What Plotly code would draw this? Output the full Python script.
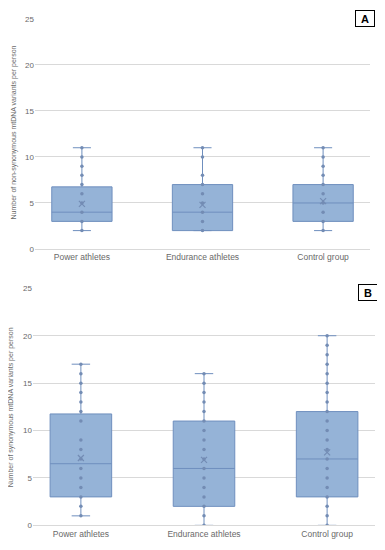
import plotly.graph_objects as go

categories = ["Power athletes", "Endurance athletes", "Control group"]

# Panel A: non-synonymous
a_min = [2, 2, 2]
a_q1 = [3, 2, 3]
a_median = [4, 4, 5]
a_q3 = [6.75, 7, 7]
a_max = [11, 11, 11]
a_mean = [4.9, 4.8, 5.2]
a_points = [
    [2, 3, 4, 5, 6, 7, 8, 9, 10, 11],
    [2, 3, 4, 5, 6, 7, 8, 10, 11],
    [2, 3, 4, 5, 6, 7, 8, 9, 10, 11],
]

# Panel B: synonymous
b_min = [1, 0, 0]
b_q1 = [3, 2, 3]
b_median = [6.5, 6, 7]
b_q3 = [11.75, 11, 12]
b_max = [17, 16, 20]
b_mean = [7.1, 6.9, 7.7]
b_points = [
    [1, 2, 3, 4, 5, 6, 7, 8, 9, 11, 12, 13, 14, 15, 16, 17],
    [0, 1, 2, 3, 4, 5, 6, 7, 8, 9, 10, 11, 12, 13, 14, 15, 16],
    [0, 1, 2, 3, 4, 5, 6, 7, 8, 9, 10, 11, 12, 13, 14, 15, 16, 17, 18, 19, 20],
]

y_ticks = [0, 5, 10, 15, 20, 25]

FILL = "rgb(149,179,215)"
LINE = "rgb(111,143,190)"
DOT = "rgb(115,140,180)"
GRID = "rgb(217,217,217)"
TXT = "rgb(105,105,105)"
FONT = "Liberation Sans Narrow, Liberation Sans, Arial"

fig = go.Figure()

for (mn, q1, md, q3, mx, mean, pts, xa, ya) in [
    (a_min, a_q1, a_median, a_q3, a_max, a_mean, a_points, "x", "y"),
    (b_min, b_q1, b_median, b_q3, b_max, b_mean, b_points, "x2", "y2"),
]:
    fig.add_trace(go.Box(
        x=categories, q1=q1, median=md, q3=q3, lowerfence=mn, upperfence=mx,
        fillcolor=FILL, line=dict(color=LINE, width=1), width=0.5,
        whiskerwidth=0.3, boxpoints=False, xaxis=xa, yaxis=ya,
        showlegend=False, hoverinfo="skip",
    ))
    xs, ys = [], []
    for c, p in zip(categories, pts):
        xs += [c] * len(p)
        ys += p
    fig.add_trace(go.Scatter(
        x=xs, y=ys, mode="markers", xaxis=xa, yaxis=ya,
        marker=dict(size=3.5, color=DOT), showlegend=False, hoverinfo="skip",
    ))
    fig.add_trace(go.Scatter(
        x=categories, y=mean, mode="markers", xaxis=xa, yaxis=ya,
        marker=dict(symbol="x-thin", size=6, line=dict(color=DOT, width=1.2)),
        showlegend=False, hoverinfo="skip",
    ))

# the page body has an 8px margin, so the figure is drawn 8px in from the top-left
OFF = 8
W = 385.0 - OFF
H = 550.0 - OFF
ml, mr = 33 - OFF, 10 - OFF
pw = W - ml - mr

def px(x):
    return (x - OFF - ml) / pw

def py(y):
    return 1 - (y - OFF) / H

def xd(px0, px1):
    return [px(px0), px(px1)]

def yd(top, bottom):
    return [py(bottom), py(top)]

ax_common = dict(showgrid=False, zeroline=False, showline=True, linecolor=GRID,
                 linewidth=1, ticks="", tickfont=dict(family=FONT, size=8.5, color=TXT),
                 categoryorder="array", categoryarray=categories)
ay_common = dict(range=[0, 25], tickvals=y_ticks, showgrid=True, gridcolor=GRID,
                 gridwidth=1, zeroline=False, showline=False, ticks="",
                 tickfont=dict(family=FONT, size=8, color=TXT))

fig.update_layout(
    width=int(W), height=int(H),
    margin=dict(l=ml, r=mr, t=0, b=0),
    paper_bgcolor="white", plot_bgcolor="white",
    xaxis=dict(domain=xd(35, 370), anchor="y", **ax_common),
    yaxis=dict(domain=yd(15, 249), anchor="x", **ay_common),
    xaxis2=dict(domain=xd(33, 375), anchor="y2", **ax_common),
    yaxis2=dict(domain=yd(289, 530), anchor="x2", **ay_common),
    annotations=[
        dict(text="Number of non-synonymous mtDNA variants per person", textangle=-90,
             xref="paper", yref="paper", x=px(13.5), y=py(131),
             xanchor="center", yanchor="middle", showarrow=False,
             font=dict(family=FONT, size=7, color=TXT)),
        dict(text="Number of synonymous mtDNA variants per person", textangle=-90,
             xref="paper", yref="paper", x=px(11), y=py(410),
             xanchor="center", yanchor="middle", showarrow=False,
             font=dict(family=FONT, size=7, color=TXT)),
        dict(text="<b>A</b>", xref="paper", yref="paper", x=px(364.5), y=py(15),
             xanchor="center", yanchor="middle", showarrow=False,
             font=dict(family="Liberation Sans, Arial", size=11, color="black"),
             bordercolor="black", borderwidth=1, borderpad=2, width=14, height=11,
             bgcolor="white"),
        dict(text="<b>B</b>", xref="paper", yref="paper", x=px(368), y=py(293),
             xanchor="center", yanchor="middle", showarrow=False,
             font=dict(family="Liberation Sans, Arial", size=11, color="black"),
             bordercolor="black", borderwidth=1, borderpad=2, width=14, height=11,
             bgcolor="white"),
    ],
)

fig.write_html("out.html")
